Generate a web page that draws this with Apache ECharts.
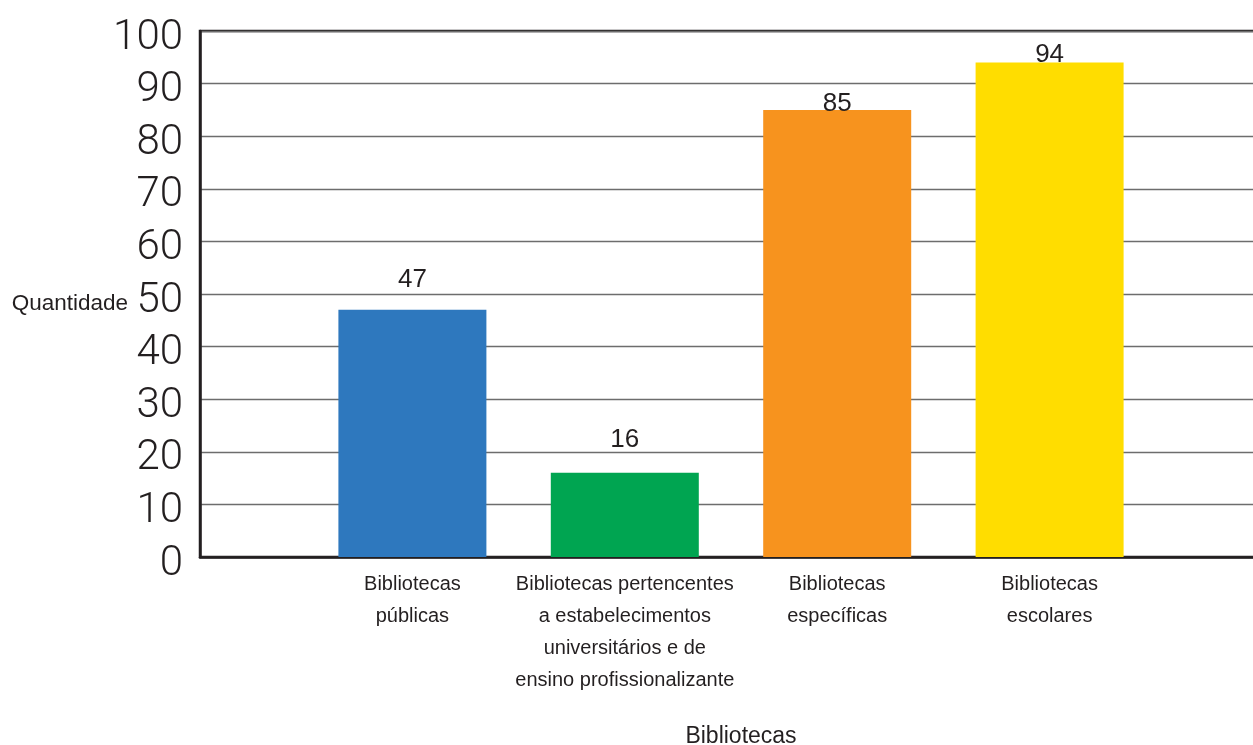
<!DOCTYPE html>
<html>
<head>
<meta charset="utf-8">
<script src="https://cdn.jsdelivr.net/npm/echarts@6/dist/echarts.min.js"></script>
<style>html,body{margin:0;padding:0;background:#fff;}#c{width:1253px;height:745px;}</style>
</head>
<body>
<div id="c"></div>
<script>
// Data
const categories = ['', 'Bibliotecas\npúblicas', 'Bibliotecas pertencentes\na estabelecimentos\nuniversitários e de\nensino profissionalizante', 'Bibliotecas\nespecíficas', 'Bibliotecas\nescolares', ''];
const values = [null, 47, 16, 85, 94, null];
const yTicks = [0, 10, 20, 30, 40, 50, 60, 70, 80, 90, 100];
const yAxisTitle = 'Quantidade';
const xAxisTitle = 'Bibliotecas';

// Styles
const barColors = [null, '#2E78BE', '#00A551', '#F7931E', '#FFDD00', null];
const labelDistance = [0, 17, 20, -7, -5, 0];

const chart = echarts.init(document.getElementById('c'), null, {renderer: 'canvas'});
const data = values.map((v, i) => v == null ? null : ({
  value: v,
  itemStyle: {color: barColors[i]},
  label: {distance: labelDistance[i]}
}));

chart.setOption({
  animation: false,
  grid: {left: 200, top: 31, width: 1062, bottom: 188, outerBoundsMode: 'none', containLabel: false, show: true, borderColor: '#231F20', borderWidth: 2.5, backgroundColor: 'transparent'},
  xAxis: {
    type: 'category',
    data: categories,
    boundaryGap: false,
    axisLine: {lineStyle: {color: '#231F20', width: 2.5}},
    axisTick: {show: false},
    axisLabel: {interval: 0, margin: 11, color: '#231F20', fontFamily: '"Liberation Sans Narrow", "Liberation Sans", sans-serif', fontSize: 20, lineHeight: 32},
    name: xAxisTitle,
    nameLocation: 'middle',
    nameGap: 168,
    nameTextStyle: {color: '#231F20', fontFamily: '"Liberation Sans", sans-serif', fontSize: 23, padding: [0, 0, 0, 20]}
  },
  yAxis: {
    type: 'value',
    min: yTicks[0],
    max: yTicks[yTicks.length - 1],
    interval: yTicks[1] - yTicks[0],
    axisLine: {show: true, lineStyle: {color: '#231F20', width: 2.5}},
    axisTick: {show: false},
    axisLabel: {margin: 17, color: '#231F20', fontFamily: 'Roboto, sans-serif', fontWeight: 300, fontSize: 42, verticalAlign: 'top', lineHeight: 14},
    splitLine: {lineStyle: {color: '#6d6d6d', width: 1.4}}
  },
  graphic: [{
    type: 'text',
    x: 128, y: 304,
    style: {text: yAxisTitle, align: 'right', verticalAlign: 'middle', fill: '#231F20', font: '22.5px "Liberation Sans", sans-serif'}
  }],
  series: [{
    type: 'bar',
    data: data,
    barWidth: 148,
    label: {show: true, position: 'top', color: '#231F20', fontFamily: '"Liberation Sans Narrow", "Liberation Sans", sans-serif', fontSize: 26}
  }]
});
</script>
</body>
</html>
